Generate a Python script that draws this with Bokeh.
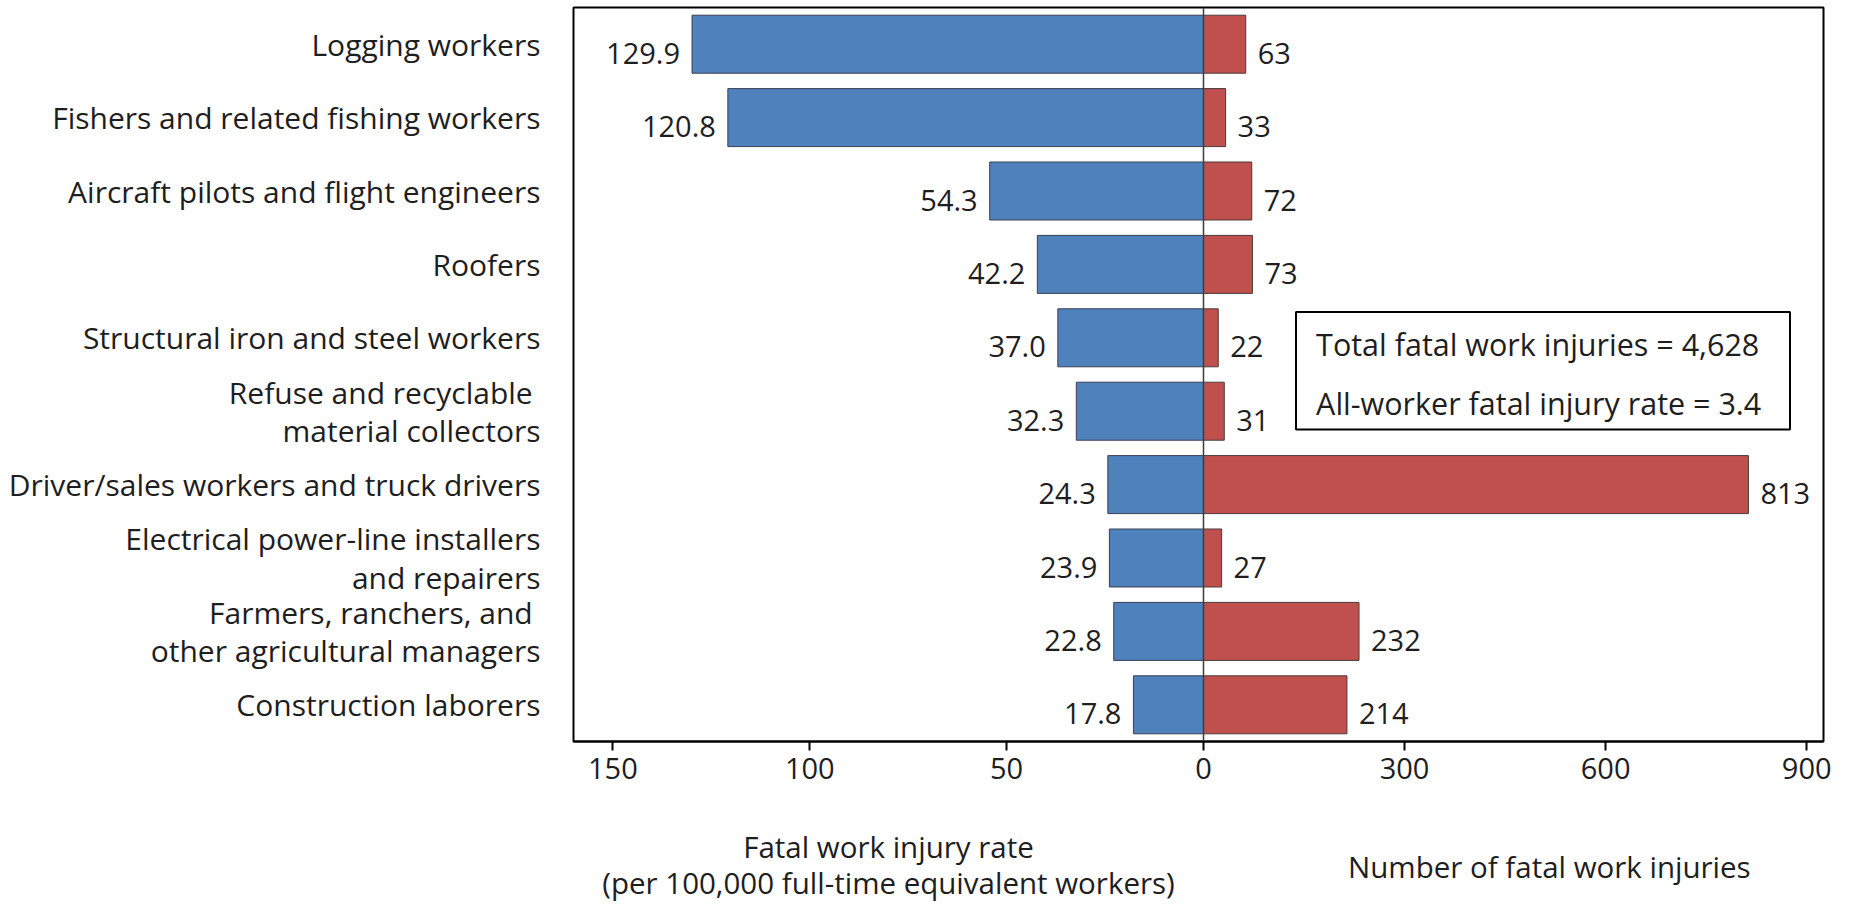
from bokeh.plotting import figure
from bokeh.layouts import column
from bokeh.models import Range1d, FactorRange, FixedTicker, Span, BoxAnnotation, Label
from bokeh.core.properties import value
from bokeh.embed import file_html
from bokeh.resources import INLINE

# ---------------- data ----------------
occupations = [
    "Logging workers",
    "Fishers and related fishing workers",
    "Aircraft pilots and flight engineers",
    "Roofers",
    "Structural iron and steel workers",
    "Refuse and recyclable \nmaterial collectors",
    "Driver/sales workers and truck drivers",
    "Electrical power-line installers\nand repairers",
    "Farmers, ranchers, and \nother agricultural managers",
    "Construction laborers",
]
fatal_rate = [129.9, 120.8, 54.3, 42.2, 37.0, 32.3, 24.3, 23.9, 22.8, 17.8]
fatal_count = [63, 33, 72, 73, 22, 31, 813, 27, 232, 214]

rate_ticks = [150, 100, 50, 0]
count_ticks = [300, 600, 900]

rate_title = ["Fatal work injury rate", "(per 100,000 full-time equivalent workers)"]
count_title = "Number of fatal work injuries"
note_lines = ["Total fatal work injuries = 4,628", "All-worker fatal injury rate = 3.4"]

# ---------------- styling / layout constants ----------------
FONT = "Open Sans"
TXT = "#1e1e1e"
BLUE = "#4F81BD"
RED = "#C0504D"
RATE_MAX = 160.0
COUNT_MAX = 925.0
LEFT_PX = 630
RIGHT_PX = 620
BORDER_L = 573
BORDER_R = 11
FRAME_H = 734
MAIN_BOTTOM = 58
TITLE_H = 105

cats = occupations[::-1]

rate_range = Range1d(RATE_MAX, -RATE_MAX * RIGHT_PX / LEFT_PX)
count_range = Range1d(-COUNT_MAX * LEFT_PX / RIGHT_PX, COUNT_MAX)

p = figure(
    y_range=FactorRange(factors=cats),
    x_range=rate_range,
    frame_width=LEFT_PX + RIGHT_PX, frame_height=FRAME_H,
    min_border_left=BORDER_L, min_border_right=BORDER_R, min_border_top=7,
    min_border_bottom=MAIN_BOTTOM,
    toolbar_location=None, output_backend="svg",
)
p.extra_x_ranges = {"count": count_range}
p.xgrid.visible = False
p.ygrid.visible = False
p.outline_line_color = "black"
p.outline_line_width = 2
p.background_fill_color = "white"
p.border_fill_color = "white"

# bars
p.hbar(y=occupations, left=0, right=fatal_rate, height=0.79,
       fill_color=BLUE, line_color="#3a3f55", line_width=1)
p.hbar(y=occupations, left=0, right=fatal_count, height=0.79, x_range_name="count",
       fill_color=RED, line_color="#4a3a3a", line_width=1)

# value labels
p.text(x=fatal_rate, y=occupations, text=[f"{v:.1f}" for v in fatal_rate],
       x_offset=-12, y_offset=9, text_align="right", text_baseline="middle",
       text_font=value(FONT), text_font_size="29px", text_color=TXT)
p.text(x=fatal_count, y=occupations, text=[f"{v:,}" for v in fatal_count],
       x_range_name="count",
       x_offset=12, y_offset=9, text_align="left", text_baseline="middle",
       text_font=value(FONT), text_font_size="29px", text_color=TXT)

# centre line
p.add_layout(Span(location=0, dimension="height", line_color="#3c3c3c", line_width=1.5))

# x axis: rate ticks on main range, count ticks converted into the same coordinate
k = (RATE_MAX / LEFT_PX) * (RIGHT_PX / COUNT_MAX)
count_pos = [-c * k for c in count_ticks]
xa = p.xaxis[0]
xa.ticker = FixedTicker(ticks=rate_ticks + count_pos)
overrides = {float(t): str(t) for t in rate_ticks}
overrides.update({cp: str(c) for cp, c in zip(count_pos, count_ticks)})
xa.major_label_overrides = overrides
xa.axis_line_color = "black"
xa.axis_line_width = 2
xa.major_tick_line_color = "black"
xa.major_tick_line_width = 2
xa.major_tick_out = 9
xa.major_tick_in = 0
xa.minor_tick_line_color = None
xa.major_label_standoff = 7
xa.major_label_text_font = FONT
xa.major_label_text_font_size = "29px"
xa.major_label_text_color = TXT

ya = p.yaxis[0]
ya.axis_line_color = None
ya.major_tick_line_color = None
ya.minor_tick_line_color = None
ya.major_tick_out = 0
ya.major_label_standoff = 33
ya.major_label_text_font = FONT
ya.major_label_text_font_size = "30px"
ya.major_label_text_line_height = 0.93
ya.major_label_text_color = TXT

# note box
p.add_layout(BoxAnnotation(left=138, right=875, top=5.85, bottom=4.25, x_range_name="count",
                           fill_color="white", fill_alpha=1.0,
                           line_color="black", line_alpha=1.0, line_width=2))
for txt, yy in zip(note_lines, [5.42, 4.61]):
    p.add_layout(Label(x=168, y=yy, x_range_name="count", text=txt,
                       text_font=FONT, text_font_size="30.5px", text_color=TXT,
                       text_baseline="middle", text_align="left"))

# axis titles, in a strip below the chart sharing the same x scales
t = figure(
    x_range=rate_range, y_range=Range1d(0, TITLE_H),
    frame_width=LEFT_PX + RIGHT_PX, frame_height=TITLE_H,
    min_border_left=BORDER_L, min_border_right=BORDER_R,
    min_border_top=0, min_border_bottom=0,
    x_axis_type=None, y_axis_type=None,
    toolbar_location=None, output_backend="svg",
)
t.extra_x_ranges = {"count": count_range}
t.xgrid.visible = False
t.ygrid.visible = False
t.outline_line_color = None
t.background_fill_color = "white"
t.border_fill_color = "white"
t.text(x=[RATE_MAX / 2] * 2, y=[TITLE_H - 47, TITLE_H - 83], text=rate_title,
       text_align="center", text_baseline="middle",
       text_font=value(FONT), text_font_size="29.5px", text_color=TXT)
t.text(x=[516], y=[TITLE_H - 67], text=[count_title], x_range_name="count",
       text_align="center", text_baseline="middle",
       text_font=value(FONT), text_font_size="29.5px", text_color=TXT)

layout = column(p, t, spacing=0)
open("out.html", "w").write(file_html(layout, INLINE))
